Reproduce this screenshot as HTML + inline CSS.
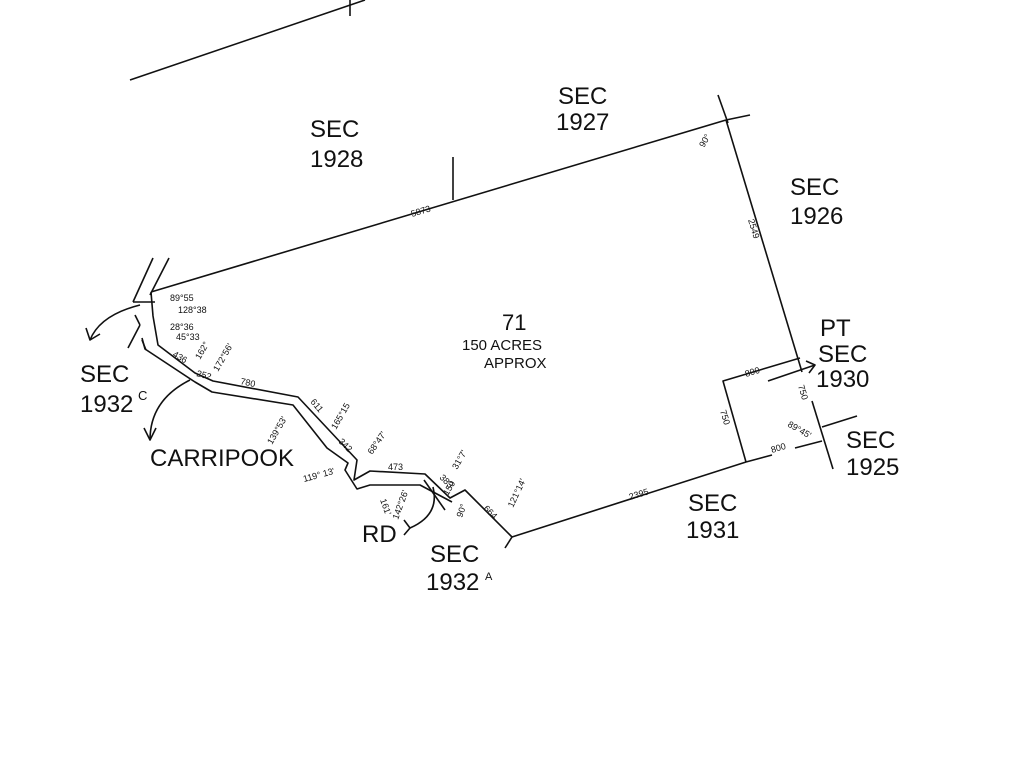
<!DOCTYPE html>
<html><head><style>
html,body{margin:0;padding:0;background:#fff;}
svg{display:block}
text{font-family:"Liberation Sans",sans-serif;fill:#111}
.b{font-size:24px}
.s{font-size:9px}
</style></head><body>
<svg width="1024" height="768" viewBox="0 0 1024 768" xmlns="http://www.w3.org/2000/svg">
<g fill="none" stroke="#111" stroke-width="1.6" stroke-linejoin="round">
<line x1="130" y1="80" x2="365" y2="0"/>
<line x1="350" y1="0" x2="350" y2="16"/>
<!-- main boundary -->
<line x1="151" y1="292" x2="726" y2="120"/>
<line x1="453" y1="157" x2="453" y2="200"/>
<line x1="718" y1="95" x2="728" y2="123"/>
<line x1="726" y1="120" x2="750" y2="115"/>
<line x1="726" y1="120" x2="802" y2="372"/>
<polyline points="151,292 153,316 158,345 195,373 213,381 298,397 357,460 354,480 370,471 425,474 450,498 465,490 512,537"/>
<polyline points="142,338 145,349 195,382 212,392 293,405 327,448 348,463 345,470 357,489 370,485 420,485 452,502"/>
<line x1="512" y1="537" x2="746" y2="462"/>
<line x1="512" y1="537" x2="505" y2="548"/>
<line x1="746" y1="462" x2="772" y2="455"/>
<line x1="795" y1="448" x2="822" y2="441"/>
<polyline points="800,358 723,381 746,462"/>
<line x1="812" y1="401" x2="833" y2="469"/>
<line x1="822" y1="427" x2="857" y2="416"/>
<line x1="768" y1="381" x2="815" y2="365"/>
<polyline points="806,361 815,365 809,373"/>
<!-- top-left double lines -->
<line x1="133" y1="302" x2="153" y2="258"/>
<line x1="150" y1="295" x2="169" y2="258"/>
<line x1="133" y1="302" x2="155" y2="302"/>
<line x1="135" y1="315" x2="140" y2="325"/>
<line x1="128" y1="348" x2="140" y2="325"/>
<line x1="142" y1="340" x2="146" y2="350"/>
<!-- arrows -->
<path d="M 140 305 Q 100 315 90 340"/>
<polyline points="86,328 90,340 100,334"/>
<path d="M 190 380 Q 150 400 150 440"/>
<polyline points="144,428 150,440 156,428"/>
<path d="M 433 487 Q 440 515 410 528"/>
<polyline points="404,520 410,528 404,535"/>
<line x1="424" y1="480" x2="445" y2="510"/>
</g>
<g>
<text class="b" x="310" y="137">SEC</text><text class="b" x="310" y="167">1928</text>
<text class="b" x="558" y="104">SEC</text><text class="b" x="556" y="130">1927</text>
<text class="b" x="790" y="195">SEC</text><text class="b" x="790" y="224">1926</text>
<text class="b" x="820" y="336">PT</text><text class="b" x="818" y="362">SEC</text><text class="b" x="816" y="387">1930</text>
<text class="b" x="846" y="448">SEC</text><text class="b" x="846" y="475">1925</text>
<text class="b" x="688" y="511">SEC</text><text class="b" x="686" y="538">1931</text>
<text class="b" x="430" y="562">SEC</text><text class="b" x="426" y="590">1932</text><text x="485" y="580" style="font-size:11px">A</text>
<text class="b" x="80" y="382">SEC</text><text class="b" x="80" y="412">1932</text><text x="138" y="400" style="font-size:13px">C</text>
<text class="b" x="150" y="466">CARRIPOOK</text>
<text class="b" x="362" y="542">RD</text>
<text x="502" y="330" style="font-size:22px">71</text>
<text x="462" y="350" style="font-size:15px">150  ACRES</text>
<text x="484" y="368" style="font-size:15px">APPROX</text>
<text class="s" x="412" y="217" transform="rotate(-17 412 217)">5873</text>
<text class="s" x="704" y="148" transform="rotate(-60 704 148)">90°</text>
<text class="s" x="748" y="220" transform="rotate(73 748 220)">2549</text>
<text class="s" x="746" y="377" transform="rotate(-17 746 377)">800</text>
<text class="s" x="720" y="411" transform="rotate(73 720 411)">750</text>
<text class="s" x="772" y="453" transform="rotate(-17 772 453)">800</text>
<text class="s" x="798" y="386" transform="rotate(73 798 386)">750</text>
<text class="s" x="787" y="426" transform="rotate(30 787 426)">89°45'</text>
<text class="s" x="630" y="500" transform="rotate(-17 630 500)">2395</text>
<text class="s" x="513" y="508" transform="rotate(-65 513 508)">121°14'</text>
<text class="s" x="483" y="509" transform="rotate(45 483 509)">664</text>
<text class="s" x="462" y="518" transform="rotate(-70 462 518)">90°</text>
<text class="s" x="170" y="301">89°55</text>
<text class="s" x="178" y="313">128°38</text>
<text class="s" x="170" y="330">28°36</text>
<text class="s" x="176" y="340">45°33</text>
<text class="s" x="172" y="356" transform="rotate(30 172 356)">436</text>
<text class="s" x="196" y="376" transform="rotate(15 196 376)">252</text>
<text class="s" x="240" y="384" transform="rotate(12 240 384)">780</text>
<text class="s" x="200" y="360" transform="rotate(-60 200 360)">162°</text>
<text class="s" x="218" y="372" transform="rotate(-60 218 372)">172°56'</text>
<text class="s" x="310" y="402" transform="rotate(50 310 402)">611</text>
<text class="s" x="336" y="430" transform="rotate(-60 336 430)">165°15</text>
<text class="s" x="338" y="442" transform="rotate(45 338 442)">342</text>
<text class="s" x="272" y="445" transform="rotate(-60 272 445)">139°53'</text>
<text class="s" x="304" y="482" transform="rotate(-15 304 482)">119° 13'</text>
<text class="s" x="372" y="455" transform="rotate(-55 372 455)">68°47'</text>
<text class="s" x="388" y="470">473</text>
<text class="s" x="380" y="500" transform="rotate(70 380 500)">161'</text>
<text class="s" x="398" y="520" transform="rotate(-70 398 520)">142°26'</text>
<text class="s" x="457" y="470" transform="rotate(-60 457 470)">31°7'</text>
<text class="s" x="439" y="478" transform="rotate(45 439 478)">383</text>
<text class="s" x="448" y="496" transform="rotate(-60 448 496)">150</text>
</g>
</svg>
</body></html>
